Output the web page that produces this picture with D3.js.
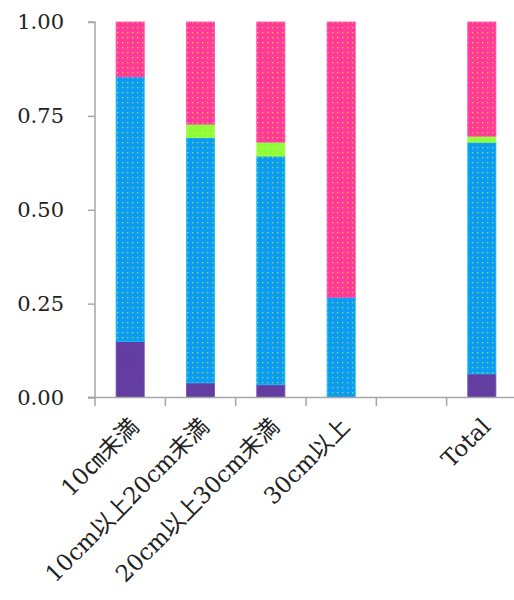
<!DOCTYPE html>
<html><head><meta charset="utf-8">
<script src="https://cdn.jsdelivr.net/npm/d3@7"></script>
<style>body{margin:0;background:#fff}svg{display:block}</style>
</head><body>
<script>
const categories = ["10㎝未満","10cm以上20cm未満","20cm以上30cm未満","30cm以上","","Total"];
const seriesNames = ["s1","s2","s3","s4"];
const s1 = [0.149, 0.039, 0.034, 0.0, null, 0.063];
const s2 = [0.705, 0.653, 0.609, 0.267, null, 0.617];
const s3 = [0.0, 0.036, 0.037, 0.0, null, 0.016];
const s4 = [0.146, 0.272, 0.320, 0.733, null, 0.304];
const yTicks = [0, 0.25, 0.5, 0.75, 1.0];
const colors = ["#673a9c", "#0a9cf5", "#8cff3c", "#ff3a99"];
const dotColors = ["#4a4ab0", "#b8e030", "#e8f020", "#ffd020"];

const W = 514, H = 600;
const svg = d3.select("body").append("svg").attr("width", W).attr("height", H);
const defs = svg.append("defs");
colors.forEach((c, i) => {
  const p = defs.append("pattern").attr("id", "pat" + i).attr("patternUnits", "userSpaceOnUse")
    .attr("width", 5).attr("height", 5);
  p.append("rect").attr("width", 5).attr("height", 5).attr("fill", c);
  if (i === 0) {
    p.append("path").attr("d", "M0,0L5,5M5,0L0,5").attr("stroke", dotColors[i]).attr("stroke-width", 0.8).attr("opacity", 0.7);
  } else {
    p.append("rect").attr("x", 2).attr("y", 2).attr("width", 1.3).attr("height", 1.3).attr("fill", dotColors[i]).attr("opacity", 0.9);
  }
});

const x = d3.scaleBand().domain(categories.map((c, i) => i)).range([95, 517]).paddingInner(0.6).paddingOuter(0.3);
const y = d3.scaleLinear().domain([0, 1]).range([397.5, 22]);

const rows = categories.map((c, i) => ({ i, s1: s1[i], s2: s2[i], s3: s3[i], s4: s4[i] })).filter(r => r.s1 !== null);
const stack = d3.stack().keys(seriesNames)(rows);

stack.forEach((layer, k) => {
  svg.append("g").selectAll("rect").data(layer.filter(d => d[1] - d[0] > 0)).join("rect")
    .attr("x", d => x(d.data.i))
    .attr("width", x.bandwidth())
    .attr("y", d => y(d[1]))
    .attr("height", d => y(d[0]) - y(d[1]))
    .attr("fill", "url(#pat" + k + ")")
    .attr("stroke", d3.color(colors[k]).brighter(0.6))
    .attr("stroke-width", 0.8);
});

// y axis
const gy = svg.append("g").attr("transform", "translate(95,0)")
  .call(d3.axisLeft(y).tickValues(yTicks).tickFormat(d3.format(".2f")).tickSize(7).tickPadding(24));
gy.select(".domain").attr("stroke", "#a6a6a6").attr("stroke-width", 1.5).attr("d", "M-7,22H0V397.5H-7");
gy.selectAll(".tick line").attr("stroke", "#a6a6a6").attr("stroke-width", 1.5);
gy.selectAll(".tick text").attr("font-family", "DejaVu Serif, serif").attr("font-size", 21).attr("fill", "#222");

// x axis
const xb = d3.scaleLinear().domain([0, 6]).range([95, 517]);
const gx = svg.append("g");
gx.append("line").attr("x1", 88).attr("x2", 517).attr("y1", 397.5).attr("y2", 397.5).attr("stroke", "#a6a6a6").attr("stroke-width", 1.5);
gx.selectAll("line.tk").data(d3.range(7)).join("line").attr("class", "tk")
  .attr("x1", d => xb(d)).attr("x2", d => xb(d)).attr("y1", 397.5).attr("y2", 406)
  .attr("stroke", "#a6a6a6").attr("stroke-width", 1.5);
gx.selectAll("text").data(categories.map((c, i) => ({ c, i })).filter(d => d.c)).join("text")
  .attr("transform", d => `translate(${x(d.i) + x.bandwidth() / 2 + 10},${428}) rotate(-45)`)
  .attr("text-anchor", "end")
  .attr("font-family", "DejaVu Serif, 'Noto Sans CJK JP', serif")
  .attr("font-size", 23).attr("fill", "#222")
  .text(d => d.c);
</script>
</body></html>
